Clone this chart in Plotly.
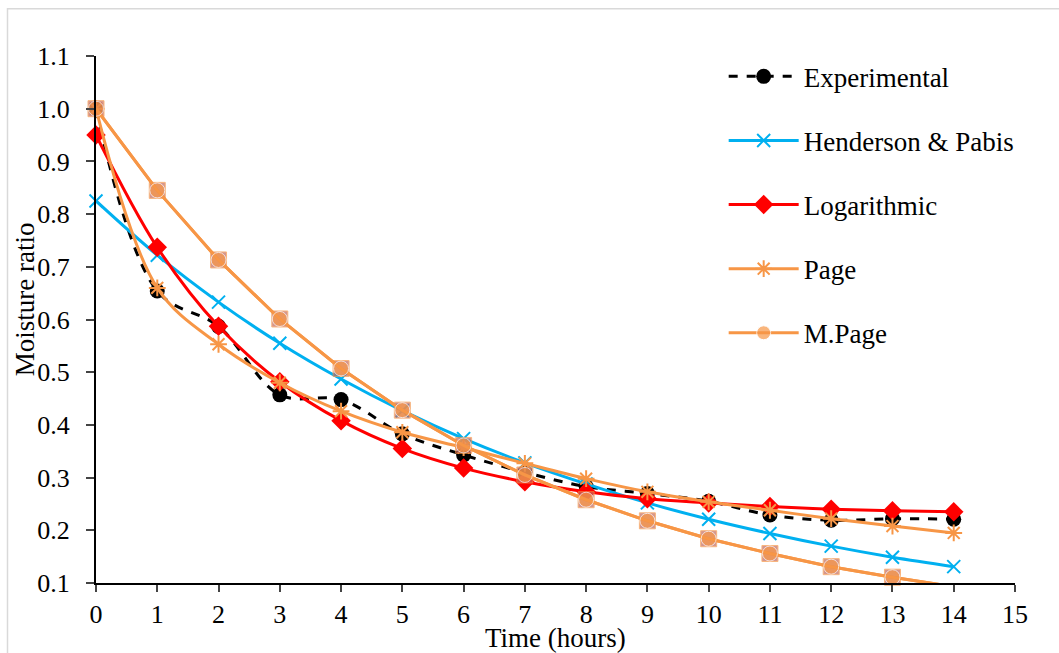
import plotly.graph_objects as go

time_h = list(range(15))
experimental = [1.0, 0.654, 0.587, 0.457, 0.448, 0.383, 0.343, 0.310, 0.283, 0.270, 0.255, 0.229, 0.219, 0.222, 0.221]
henderson = [0.825, 0.722, 0.633, 0.555, 0.487, 0.427, 0.374, 0.328, 0.288, 0.252, 0.221, 0.194, 0.170, 0.149, 0.131]
logarithmic = [0.950, 0.737, 0.587, 0.482, 0.408, 0.355, 0.318, 0.292, 0.273, 0.260, 0.252, 0.245, 0.240, 0.237, 0.235]
page = [1.0, 0.660, 0.553, 0.480, 0.426, 0.386, 0.357, 0.327, 0.298, 0.273, 0.254, 0.238, 0.222, 0.208, 0.195]
mpage = [1.0, 0.845, 0.713, 0.601, 0.507, 0.428, 0.361, 0.305, 0.258, 0.218, 0.184, 0.156, 0.131, 0.111, 0.093]

x_ticks = list(range(16))
y_ticks = [0.1, 0.2, 0.3, 0.4, 0.5, 0.6, 0.7, 0.8, 0.9, 1.0, 1.1]
y_min, y_max = 0.1, 1.1

ORANGE = "#F79646"
BLUE = "#00B0F0"
RED = "#FF0000"
FONT = "Liberation Serif"

def sizes(vals, s):
    return [s if v >= y_min else 0 for v in vals]

fig = go.Figure()

fig.add_trace(go.Scatter(
    x=time_h, y=experimental, name="Experimental", mode="lines+markers",
    line=dict(color="black", width=3, dash="dash", shape="spline"),
    marker=dict(symbol="circle", size=15, color="black"),
    legendgroup="g1", cliponaxis=False))

fig.add_trace(go.Scatter(
    x=time_h, y=henderson, name="Henderson & Pabis", mode="lines+markers",
    line=dict(color=BLUE, width=3, shape="spline"),
    marker=dict(symbol="x-thin-open", size=13, color=BLUE, line=dict(color=BLUE, width=2)),
    legendgroup="g2", cliponaxis=False))

fig.add_trace(go.Scatter(
    x=time_h, y=logarithmic, name="Logarithmic", mode="lines+markers",
    line=dict(color=RED, width=3, shape="spline"),
    marker=dict(symbol="diamond", size=15, color=RED),
    legendgroup="g3", cliponaxis=False))

fig.add_trace(go.Scatter(
    x=time_h, y=page, name="Page", mode="lines+markers",
    line=dict(color=ORANGE, width=3, shape="spline"),
    marker=dict(symbol="asterisk-open", size=14, color=ORANGE, line=dict(color=ORANGE, width=2)),
    legendgroup="g4", cliponaxis=False))

fig.add_trace(go.Scatter(
    x=time_h, y=mpage, name="M.Page squares", mode="lines+markers",
    line=dict(color=ORANGE, width=3),
    marker=dict(symbol="square", size=sizes(mpage, 16), color="#C46A5E"),
    legendgroup="g5", showlegend=False, cliponaxis=False))

fig.add_trace(go.Scatter(
    x=time_h, y=mpage, name="M.Page", mode="lines+markers",
    line=dict(color=ORANGE, width=3),
    marker=dict(symbol="circle", size=sizes(mpage, 15), color=ORANGE),
    legendgroup="g5", cliponaxis=False))

border = dict(type="rect", xref="paper", yref="paper",
              x0=-0.0963, x1=1.2, y0=-0.3, y1=1.0897,
              line=dict(color="#D9D9D9", width=1.5), fillcolor="rgba(0,0,0,0)", layer="below")

fig.update_layout(
    width=1059, height=653,
    margin=dict(l=96, r=44, t=56, b=70),
    paper_bgcolor="white", plot_bgcolor="white",
    font=dict(family=FONT, color="black"),
    showlegend=True,
    legend=dict(x=0.683, y=1.007, xanchor="left", yanchor="top",
                font=dict(family=FONT, size=27, color="black"),
                traceorder="grouped", tracegroupgap=26, itemwidth=70,
                bgcolor="rgba(0,0,0,0)"),
    shapes=[border],
    annotations=[
        dict(text="Moisture ratio", xref="paper", yref="paper", x=-0.077, y=0.539,
             xanchor="center", yanchor="middle", textangle=-90, showarrow=False,
             font=dict(size=27, family=FONT, color="black")),
        dict(text="Time (hours)", xref="paper", yref="paper", x=0.4995, y=-0.072,
             xanchor="center", yanchor="top", showarrow=False,
             font=dict(size=27, family=FONT, color="black")),
    ],
    xaxis=dict(range=[0, 15], tickvals=x_ticks, ticks="outside", ticklen=7, tickwidth=2,
               showline=True, linecolor="black", linewidth=2, showgrid=False, zeroline=False,
               automargin=False,
               tickfont=dict(size=26, family=FONT)),
    yaxis=dict(range=[y_min, y_max], tickvals=y_ticks, tickformat=".1f", ticks="outside", ticklen=8, tickwidth=2,
               showline=True, linecolor="black", linewidth=2, showgrid=False, zeroline=False,
               automargin=False, ticklabelstandoff=11,
               tickfont=dict(size=26, family=FONT)),
)

fig.write_html("out.html")
